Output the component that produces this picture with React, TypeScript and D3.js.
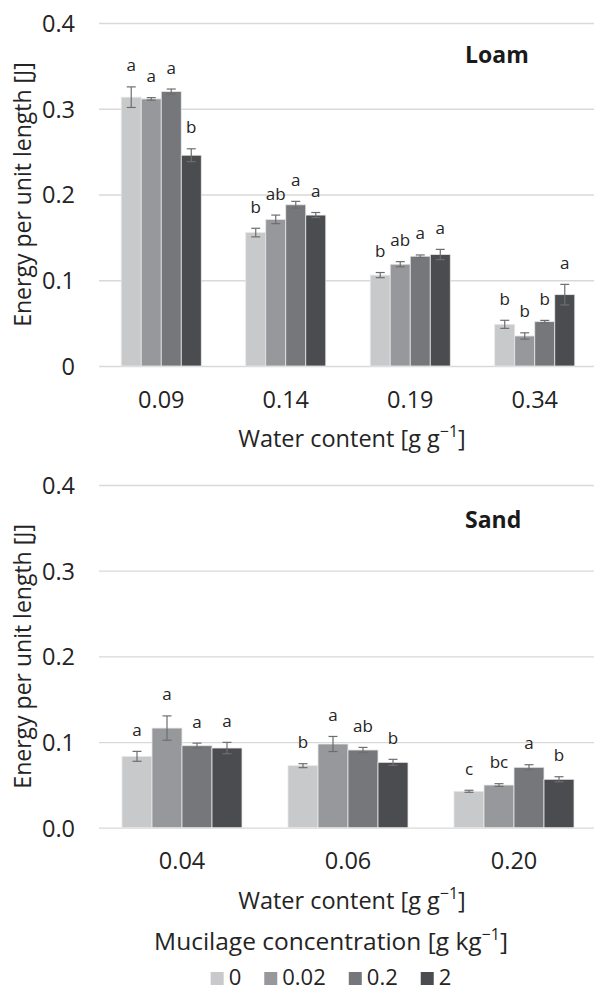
import * as d3 from "d3";
import { useEffect, useRef } from "react";

// Mucilage concentration series [g kg-1]
const mucilage = ["0", "0.02", "0.2", "2"];
const barColors = ["#c8c9cb", "#97989b", "#76777b", "#4b4c4f"];

// Loam panel
const loamWater = ["0.09", "0.14", "0.19", "0.34"];
const loamMean = [
  [0.3135, 0.3115, 0.32, 0.2458],
  [0.1556, 0.171, 0.188, 0.176],
  [0.106, 0.1187, 0.128, 0.13],
  [0.0486, 0.035, 0.0517, 0.0832],
];
const loamErr = [
  [0.012, 0.0015, 0.003, 0.0075],
  [0.005, 0.005, 0.004, 0.003],
  [0.003, 0.003, 0.0015, 0.006],
  [0.0047, 0.0037, 0.0015, 0.012],
];
const loamLetters = [
  ["a", "a", "a", "b"],
  ["b", "ab", "a", "a"],
  ["b", "ab", "a", "a"],
  ["b", "b", "b", "a"],
];
const loamTickLabels = ["0", "0.1", "0.2", "0.3", "0.4"];

// Sand panel
const sandWater = ["0.04", "0.06", "0.20"];
const sandMean = [
  [0.0833, 0.1163, 0.0957, 0.093],
  [0.0724, 0.0977, 0.0907, 0.0763],
  [0.0425, 0.0498, 0.0705, 0.0565],
];
const sandErr = [
  [0.0058, 0.0142, 0.003, 0.0066],
  [0.0023, 0.0088, 0.003, 0.0035],
  [0.0012, 0.0016, 0.003, 0.003],
];
const sandLetters = [
  ["a", "a", "a", "a"],
  ["b", "a", "ab", "b"],
  ["c", "bc", "a", "b"],
];
const sandTickLabels = ["0.0", "0.1", "0.2", "0.3", "0.4"];

const yTicks = [0, 0.1, 0.2, 0.3, 0.4];

const width = 594;
const height = 992;
const marginLeft = 99;
const plotRight = 597; // plot area runs slightly past the window
const font = "'Open Sans', sans-serif";
const textColor = "#242424";

interface Panel {
  name: string;
  groups: string[];
  means: number[][];
  errs: number[][];
  letters: string[][];
  tickLabels: string[];
  top: number;
  bottom: number;
  pad: number;
  nameY: number;
}

const panels: Panel[] = [
  {
    name: "Loam",
    groups: loamWater,
    means: loamMean,
    errs: loamErr,
    letters: loamLetters,
    tickLabels: loamTickLabels,
    top: 23,
    bottom: 366,
    pad: 0.357,
    nameY: 63,
  },
  {
    name: "Sand",
    groups: sandWater,
    means: sandMean,
    errs: sandErr,
    letters: sandLetters,
    tickLabels: sandTickLabels,
    top: 485,
    bottom: 827.7,
    pad: 0.277,
    nameY: 528,
  },
];

function addUnitLabel(sel: any, pre: string, size: number) {
  sel.append("tspan").text(pre);
  sel.append("tspan").attr("font-size", 16).attr("dy", -10).text("\u22121");
  sel.append("tspan").attr("font-size", size).attr("dy", 10).text("]");
}

function drawPanel(svg: any, p: Panel) {
  const g = svg.append("g");

  const y = d3.scaleLinear().domain([0, 0.4]).range([p.bottom, p.top]);
  const x0 = d3
    .scaleBand()
    .domain(p.groups)
    .range([marginLeft, plotRight])
    .paddingInner(p.pad)
    .paddingOuter(p.pad / 2);
  const x1 = d3.scaleBand().domain(mucilage).range([0, x0.bandwidth()]);

  // gridlines + y tick labels
  const yAxis = g
    .append("g")
    .attr("transform", `translate(${marginLeft},0)`)
    .call(
      d3
        .axisLeft(y)
        .tickValues(yTicks)
        .tickSize(-(plotRight - marginLeft))
        .tickPadding(24)
        .tickFormat((_d: any, i: number) => p.tickLabels[i])
    );
  yAxis.select(".domain").remove();
  yAxis.selectAll("line").attr("stroke", "#d9d9d9").attr("stroke-width", 1.3);
  yAxis
    .selectAll("text")
    .attr("font-size", 23.5)
    .attr("dy", "0.36em")
    .attr("font-family", font)
    .attr("fill", textColor);

  const rows = p.means.flatMap((vals, gi) =>
    vals.map((v, si) => ({
      group: p.groups[gi],
      series: mucilage[si],
      si,
      mean: v,
      err: p.errs[gi][si],
      letter: p.letters[gi][si],
    }))
  );
  const cx = (d: any) => (x0(d.group) as number) + (x1(d.series) as number) + x1.bandwidth() / 2;

  // bars
  g.append("g")
    .selectAll("rect")
    .data(rows)
    .join("rect")
    .attr("x", (d: any) => (x0(d.group) as number) + (x1(d.series) as number))
    .attr("width", x1.bandwidth())
    .attr("y", (d: any) => y(d.mean))
    .attr("height", (d: any) => y(0) - y(d.mean))
    .attr("fill", (d: any) => barColors[d.si])
    .attr("stroke", "#e8e8e8")
    .attr("stroke-width", 0.8);

  // error bars
  const eb = g
    .append("g")
    .attr("stroke", "#6e6e6e")
    .attr("stroke-width", 1.2)
    .selectAll("g")
    .data(rows)
    .join("g");
  eb.append("line")
    .attr("x1", cx)
    .attr("x2", cx)
    .attr("y1", (d: any) => y(d.mean - d.err))
    .attr("y2", (d: any) => y(d.mean + d.err));
  [1, -1].forEach((s) => {
    eb.append("line")
      .attr("x1", (d: any) => cx(d) - 4.5)
      .attr("x2", (d: any) => cx(d) + 4.5)
      .attr("y1", (d: any) => y(d.mean + s * d.err))
      .attr("y2", (d: any) => y(d.mean + s * d.err));
  });

  // significance letters
  g.append("g")
    .selectAll("text")
    .data(rows)
    .join("text")
    .attr("x", cx)
    .attr("y", (d: any) => y(d.mean + d.err) - 15.5)
    .attr("text-anchor", "middle")
    .attr("font-size", 17)
    .attr("font-family", font)
    .attr("fill", textColor)
    .text((d: any) => d.letter);

  // x tick labels
  const xAxis = g
    .append("g")
    .attr("transform", `translate(0,${p.bottom})`)
    .call(d3.axisBottom(x0).tickSize(0).tickPadding(25));
  xAxis.select(".domain").remove();
  xAxis
    .selectAll("text")
    .attr("font-size", 23.5)
    .attr("font-family", font)
    .attr("fill", textColor);

  // x axis title
  const xt = g
    .append("text")
    .attr("x", 352)
    .attr("y", p.bottom + 81)
    .attr("text-anchor", "middle")
    .attr("font-size", 23.5)
    .attr("font-family", font)
    .attr("fill", textColor);
  addUnitLabel(xt, "Water content [g g", 23.5);

  // y axis title
  g.append("text")
    .attr("transform", `translate(31,${(p.top + p.bottom) / 2}) rotate(-90)`)
    .attr("text-anchor", "middle")
    .attr("font-size", 23)
    .attr("font-family", font)
    .attr("fill", textColor)
    .text("Energy per unit length [J]");

  // soil name
  g.append("text")
    .attr("x", 465)
    .attr("y", p.nameY)
    .attr("font-size", 23)
    .attr("font-weight", "bold")
    .attr("font-family", font)
    .attr("fill", "#1a1a1a")
    .text(p.name);
}

function drawLegend(svg: any) {
  const centerX = 331;
  const lt = svg
    .append("text")
    .attr("x", centerX)
    .attr("y", 950)
    .attr("text-anchor", "middle")
    .attr("font-size", 24.5)
    .attr("font-family", font)
    .attr("fill", textColor);
  addUnitLabel(lt, "Mucilage concentration [g kg", 24.5);

  const lg = svg.append("g");
  const box = 13;
  let x = 0;
  mucilage.forEach((m, i) => {
    lg.append("rect")
      .attr("x", x)
      .attr("y", 972)
      .attr("width", box)
      .attr("height", box)
      .attr("fill", barColors[i]);
    const t = lg
      .append("text")
      .attr("x", x + box + 5)
      .attr("y", 985)
      .attr("font-size", 22)
      .attr("font-family", font)
      .attr("fill", textColor)
      .text(m);
    const w = (t.node() as SVGTextElement).getComputedTextLength();
    x += box + 5 + w + (i < mucilage.length - 1 ? 23 : 0);
  });
  lg.attr("transform", `translate(${centerX - x / 2},0)`);
}

export const Chart = () => {
  const svgRef = useRef<SVGSVGElement>(null);

  useEffect(() => {
    const svg = d3.select(svgRef.current);
    svg.selectAll("*").remove();
    panels.forEach((p) => drawPanel(svg, p));
    drawLegend(svg);
  }, []);

  return (
    <svg
      ref={svgRef}
      width={width}
      height={height}
      style={{ position: "fixed", left: 0, top: 0, background: "#fff" }}
    />
  );
};

export default function App() {
  return <Chart />;
}
